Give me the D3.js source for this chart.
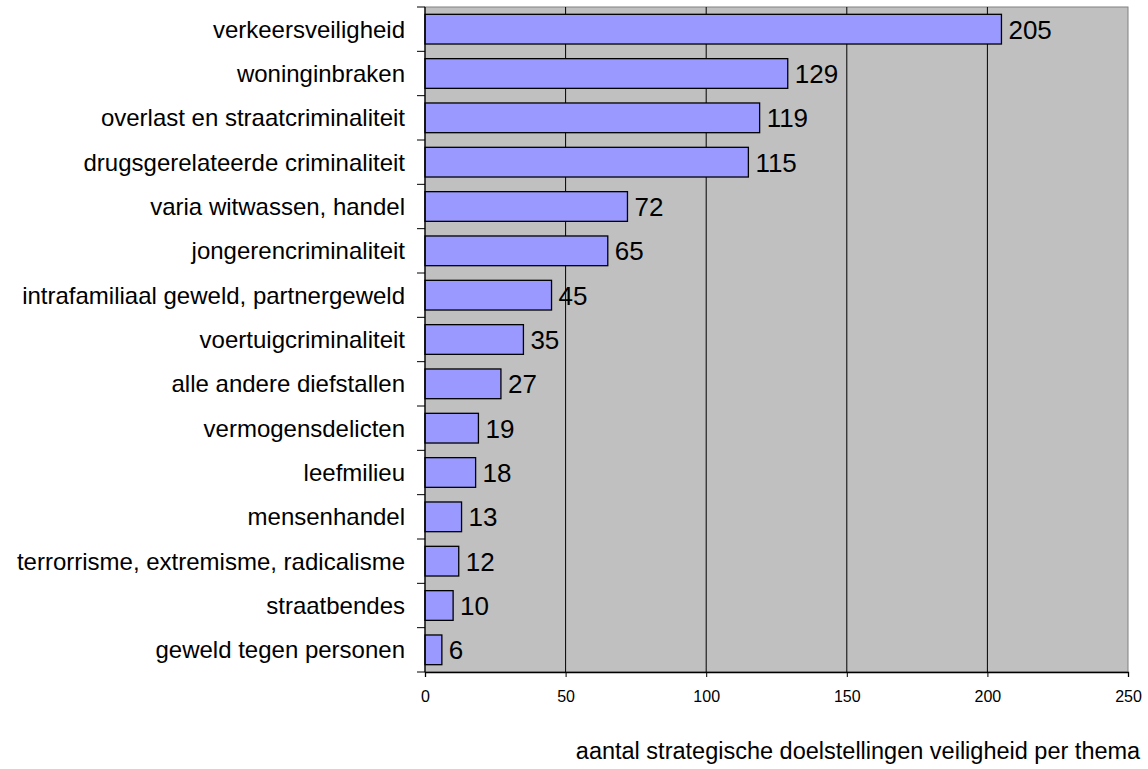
<!DOCTYPE html>
<html>
<head>
<meta charset="utf-8">
<script src="https://cdn.jsdelivr.net/npm/d3@7"></script>
<style>
  body { margin: 0; background: #fff; }
  text { font-family: "Liberation Sans", Arial, sans-serif; fill: #000; }
</style>
</head>
<body>
<script>
// categories (top to bottom) and their counts
const themes = ["verkeersveiligheid", "woninginbraken", "overlast en straatcriminaliteit",
  "drugsgerelateerde criminaliteit", "varia witwassen, handel", "jongerencriminaliteit",
  "intrafamiliaal geweld, partnergeweld", "voertuigcriminaliteit", "alle andere diefstallen",
  "vermogensdelicten", "leefmilieu", "mensenhandel", "terrorrisme, extremisme, radicalisme",
  "straatbendes", "geweld tegen personen"];
const counts = [205, 129, 119, 115, 72, 65, 45, 35, 27, 19, 18, 13, 12, 10, 6];
const xTicks = [0, 50, 100, 150, 200, 250];
const xTitle = "aantal strategische doelstellingen veiligheid per thema";

const W = 1148, H = 769;
const pLeft = 425, pRight = 1128, pTop = 7, pBottom = 672;

const svg = d3.select("body").append("svg").attr("width", W).attr("height", H);

const x = d3.scaleLinear().domain([0, 250]).range([pLeft, pRight]);
const y = d3.scaleBand().domain(themes).range([pTop, pBottom])
  .paddingInner(0.33).paddingOuter(0.165);

// plot background
svg.append("rect").attr("x", pLeft).attr("y", pTop)
  .attr("width", pRight - pLeft).attr("height", pBottom - pTop)
  .attr("fill", "#c0c0c0").attr("stroke", "#808080").attr("stroke-width", 1);

// vertical gridlines
svg.selectAll("line.grid").data(xTicks.slice(1, -1)).enter().append("line")
  .attr("class", "grid")
  .attr("x1", d => x(d)).attr("x2", d => x(d))
  .attr("y1", pTop).attr("y2", pBottom)
  .attr("stroke", "#000").attr("stroke-width", 1);

// bars
svg.selectAll("rect.bar").data(themes).enter().append("rect")
  .attr("class", "bar")
  .attr("x", x(0))
  .attr("y", d => y(d))
  .attr("width", (d, i) => x(counts[i]) - x(0))
  .attr("height", y.bandwidth())
  .attr("fill", "#9999ff").attr("stroke", "#000").attr("stroke-width", 1.3);

// value labels
svg.selectAll("text.val").data(themes).enter().append("text")
  .attr("class", "val")
  .attr("x", (d, i) => x(counts[i]) + 7)
  .attr("y", d => y(d) + y.bandwidth() / 2)
  .attr("dy", "0.36em")
  .attr("font-size", 26)
  .text((d, i) => counts[i]);

// left axis: ticks at the category boundaries
const bounds = d3.range(themes.length + 1).map(i => pTop + i * (pBottom - pTop) / themes.length);
svg.selectAll("line.ytick").data(bounds).enter().append("line")
  .attr("class", "ytick")
  .attr("x1", pLeft - 8).attr("x2", pLeft)
  .attr("y1", d => d).attr("y2", d => d)
  .attr("stroke", "#000");
svg.append("line").attr("x1", pLeft).attr("x2", pLeft).attr("y1", pTop).attr("y2", pBottom)
  .attr("stroke", "#000").attr("stroke-width", 1.3);

svg.selectAll("text.cat").data(themes).enter().append("text")
  .attr("class", "cat")
  .attr("x", 405)
  .attr("y", d => y(d) + y.bandwidth() / 2)
  .attr("dy", "0.36em")
  .attr("text-anchor", "end")
  .attr("font-size", 24)
  .text(d => d);

// bottom axis
const xAxis = svg.append("g").attr("transform", `translate(0,${pBottom})`)
  .call(d3.axisBottom(x).tickValues(xTicks).tickSize(5).tickPadding(14));
xAxis.select(".domain").attr("stroke", "#000").attr("stroke-width", 1.3);
xAxis.selectAll("text").attr("font-size", 16)
  .style("font-family", "'Liberation Sans', Arial, sans-serif").attr("fill", "#000");

// axis title
svg.append("text")
  .attr("x", 858).attr("y", 759)
  .attr("text-anchor", "middle")
  .attr("font-size", 23.5)
  .text(xTitle);
</script>
</body>
</html>
